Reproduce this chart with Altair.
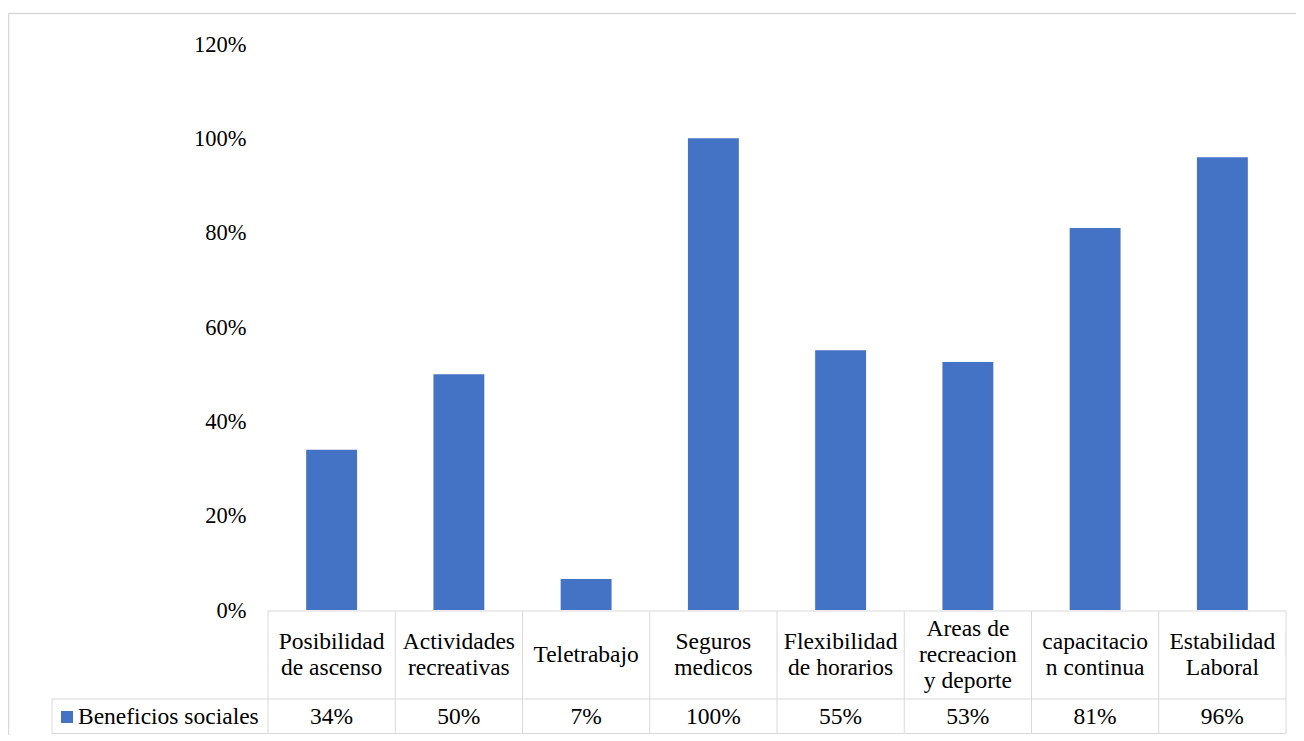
import altair as alt
import pandas as pd

# ---- data ----
categories = ["Posibilidad de ascenso", "Actividades recreativas", "Teletrabajo",
              "Seguros medicos", "Flexibilidad de horarios",
              "Areas de recreacion y deporte", "capacitacion continua", "Estabilidad Laboral"]
header_lines = ["Posibilidad\nde ascenso", "Actividades\nrecreativas", "Teletrabajo",
                "Seguros\nmedicos", "Flexibilidad\nde horarios",
                "Areas de\nrecreacion\ny deporte", "capacitacio\nn continua", "Estabilidad\nLaboral"]
values = [0.34, 0.50, 0.066, 1.00, 0.551, 0.526, 0.81, 0.96]
table_labels = ["34%", "50%", "7%", "100%", "55%", "53%", "81%", "96%"]
series_name = "Beneficios sociales"
y_ticks = [0, 0.2, 0.4, 0.6, 0.8, 1.0, 1.2]

BLUE = "#4472C4"
GRID = "#d9d9d9"
FONT = "Liberation Serif"
W, H = 1018, 690
Y_MIN, Y_MAX = -0.2627, 1.2
LH = 26          # line height of the wrapped header text
TFS = 23.5       # table font size
AFS = 22.5       # axis label font size

df = pd.DataFrame({"cat": categories, "head": header_lines, "val": values, "lab": table_labels})
df["off"] = [-(h.count("\n")) * LH / 2 for h in header_lines]
one = pd.DataFrame({"k": [0]})

xenc = alt.X("cat:N", sort=categories,
             scale=alt.Scale(paddingInner=0, paddingOuter=0), axis=None)
yscale = alt.Scale(domain=[Y_MIN, Y_MAX], nice=False, zero=False)

base = alt.Chart(df)

bars = base.mark_bar(color=BLUE, width=alt.RelativeBandSize(0.4)).encode(
    x=xenc,
    y=alt.Y("val:Q", scale=yscale,
            axis=alt.Axis(values=y_ticks, format=".0%", domain=False, ticks=False,
                          grid=False, labelFont=FONT, labelFontSize=AFS,
                          labelColor="#000000", labelPadding=22, title=None)),
    y2=alt.datum(0),
)

# table column separators
col_left = base.mark_rule(color=GRID, strokeWidth=1).encode(
    x=alt.X("cat:N", sort=categories, bandPosition=0,
            scale=alt.Scale(paddingInner=0, paddingOuter=0), axis=None),
    y=alt.value(567), y2=alt.value(690),
)
col_right = alt.Chart(one).mark_rule(color=GRID, strokeWidth=1).encode(
    x=alt.value(W), y=alt.value(567), y2=alt.value(690))

hline_top = alt.Chart(one).mark_rule(color=GRID, strokeWidth=1).encode(
    x=alt.value(0), x2=alt.value(W), y=alt.value(567))
hline_mid = alt.Chart(one).mark_rule(color=GRID, strokeWidth=1).encode(
    x=alt.value(-216), x2=alt.value(W), y=alt.value(655))
hline_bot = alt.Chart(one).mark_rule(color=GRID, strokeWidth=1).encode(
    x=alt.value(-216), x2=alt.value(W), y=alt.value(689.5))
legend_left = alt.Chart(one).mark_rule(color=GRID, strokeWidth=1).encode(
    x=alt.value(-216), y=alt.value(655), y2=alt.value(690))

# outer frame (left and top)
frame_top = alt.Chart(one).mark_rule(color=GRID, strokeWidth=1.5).encode(
    x=alt.value(-259.5), x2=alt.value(1030), y=alt.value(-30.5))
frame_left = alt.Chart(one).mark_rule(color=GRID, strokeWidth=1.5).encode(
    x=alt.value(-259.5), y=alt.value(-30.5), y2=alt.value(700))

head_text = base.mark_text(font=FONT, fontSize=TFS, color="#000000", lineBreak="\n",
                           lineHeight=LH, baseline="middle", align="center").encode(
    x=xenc, y=alt.value(611), yOffset=alt.YOffset("off:Q", scale=None), text="head:N")
val_text = base.mark_text(font=FONT, fontSize=TFS, color="#000000",
                          baseline="middle", align="center").encode(
    x=xenc, y=alt.value(673), text="lab:N")

leg_sym = alt.Chart(one).mark_square(color=BLUE, size=144, opacity=1).encode(
    x=alt.value(-201), y=alt.value(673))
leg_text = alt.Chart(pd.DataFrame({"t": [series_name]})).mark_text(
    font=FONT, fontSize=TFS, color="#000000", baseline="middle", align="left").encode(
    x=alt.value(-190), y=alt.value(673), text="t:N")

chart = alt.layer(
    frame_top, frame_left, bars, col_left, col_right, hline_top, hline_mid, hline_bot,
    legend_left, head_text, val_text, leg_sym, leg_text
).properties(
    width=W, height=H,
    background="white",
    autosize=alt.AutoSizeParams(type="none"),
    padding={"left": 260, "top": 36, "right": 10, "bottom": 1},
).configure_view(stroke=None)

chart.save("out.html", embed_options={"renderer": "svg", "actions": False})
